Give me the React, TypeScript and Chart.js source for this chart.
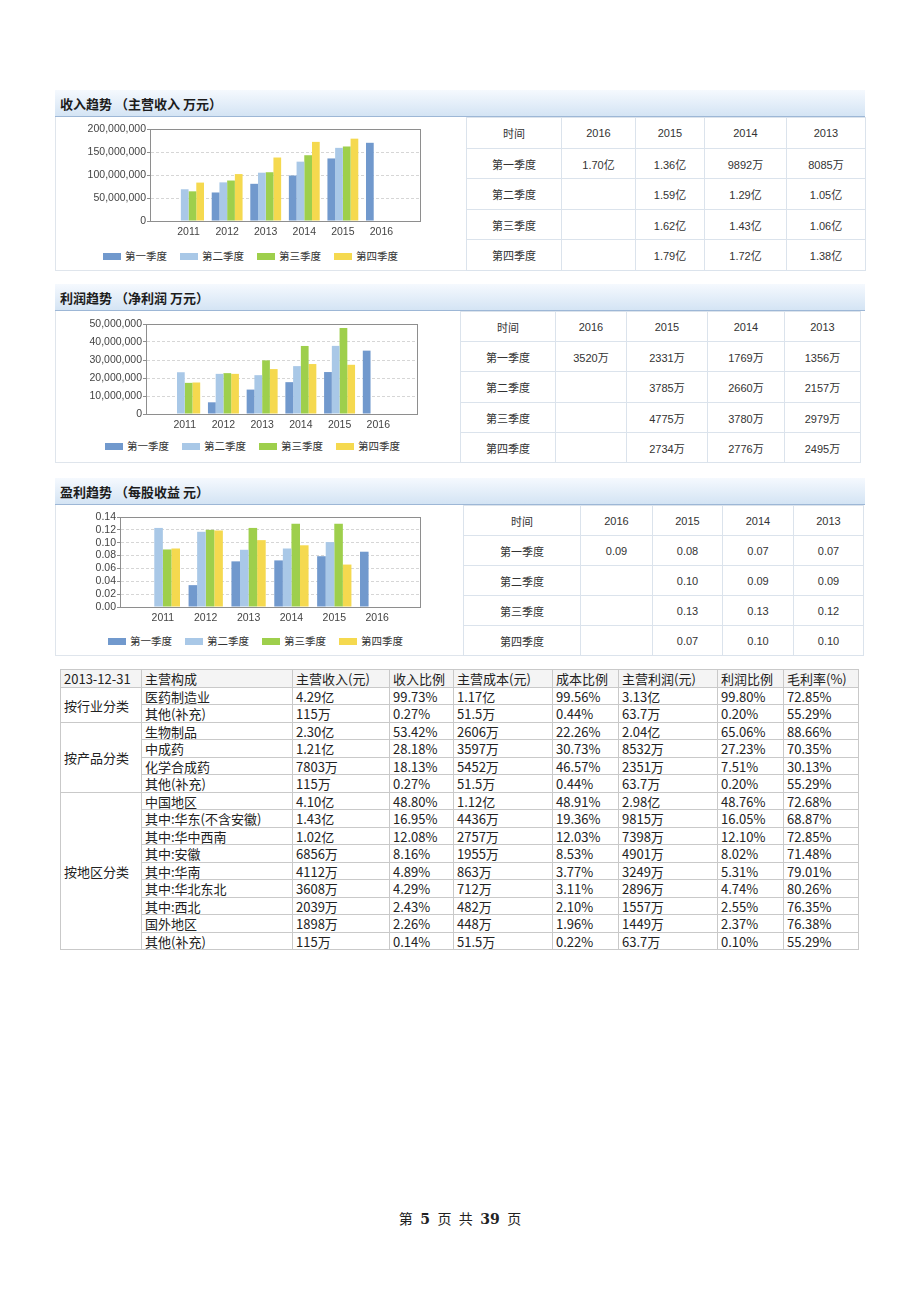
import React, { useEffect, useRef } from 'react';
import { Chart, registerables } from 'chart.js';
Chart.register(...registerables);

// ---------- chart data ----------
const years = ['', '2011', '2012', '2013', '2014', '2015', '2016', ''];
const quarterNames = ['第一季度', '第二季度', '第三季度', '第四季度'];
const quarterColors = ['#7199cd', '#a9c8e7', '#9ecf4c', '#f5d94f'];

const revQ1 = [null, null, 62000000, 80850000, 98920000, 136000000, 170000000, null];
const revQ2 = [null, 69000000, 84000000, 105000000, 129000000, 159000000, null, null];
const revQ3 = [null, 64500000, 88000000, 106000000, 143000000, 162000000, null, null];
const revQ4 = [null, 83500000, 102000000, 138000000, 172000000, 179000000, null, null];

const profQ1 = [null, null, 6500000, 13560000, 17690000, 23310000, 35200000, null];
const profQ2 = [null, 23200000, 22300000, 21570000, 26600000, 37850000, null, null];
const profQ3 = [null, 17300000, 22700000, 29790000, 37800000, 47750000, null, null];
const profQ4 = [null, 17500000, 22300000, 24950000, 27760000, 27340000, null, null];

const epsQ1 = [null, null, 0.034, 0.071, 0.0725, 0.079, 0.086, null];
const epsQ2 = [null, 0.123, 0.117, 0.089, 0.091, 0.101, null, null];
const epsQ3 = [null, 0.0895, 0.12, 0.123, 0.1295, 0.1295, null, null];
const epsQ4 = [null, 0.091, 0.119, 0.104, 0.096, 0.066, null, null];

// ---------- quarterly tables ----------
const tableYears = ['2016', '2015', '2014', '2013'];
const revTable = [
  ['1.70亿', '1.36亿', '9892万', '8085万'],
  ['', '1.59亿', '1.29亿', '1.05亿'],
  ['', '1.62亿', '1.43亿', '1.06亿'],
  ['', '1.79亿', '1.72亿', '1.38亿'],
];
const profTable = [
  ['3520万', '2331万', '1769万', '1356万'],
  ['', '3785万', '2660万', '2157万'],
  ['', '4775万', '3780万', '2979万'],
  ['', '2734万', '2776万', '2495万'],
];
const epsTable = [
  ['0.09', '0.08', '0.07', '0.07'],
  ['', '0.10', '0.09', '0.09'],
  ['', '0.13', '0.13', '0.12'],
  ['', '0.07', '0.10', '0.10'],
];

// ---------- composition table ----------
const compHeader = ['2013-12-31', '主营构成', '主营收入(元)', '收入比例', '主营成本(元)', '成本比例', '主营利润(元)', '利润比例', '毛利率(%)'];
const compGroupNames = ['按行业分类', '按产品分类', '按地区分类'];
const compGroupSizes = [2, 4, 9];
const compItems = ['医药制造业', '其他(补充)', '生物制品', '中成药', '化学合成药', '其他(补充)', '中国地区', '其中:华东(不含安徽)', '其中:华中西南', '其中:安徽', '其中:华南', '其中:华北东北', '其中:西北', '国外地区', '其他(补充)'];
const compRevenue = ['4.29亿', '115万', '2.30亿', '1.21亿', '7803万', '115万', '4.10亿', '1.43亿', '1.02亿', '6856万', '4112万', '3608万', '2039万', '1898万', '115万'];
const compRevRatio = ['99.73%', '0.27%', '53.42%', '28.18%', '18.13%', '0.27%', '48.80%', '16.95%', '12.08%', '8.16%', '4.89%', '4.29%', '2.43%', '2.26%', '0.14%'];
const compCost = ['1.17亿', '51.5万', '2606万', '3597万', '5452万', '51.5万', '1.12亿', '4436万', '2757万', '1955万', '863万', '712万', '482万', '448万', '51.5万'];
const compCostRatio = ['99.56%', '0.44%', '22.26%', '30.73%', '46.57%', '0.44%', '48.91%', '19.36%', '12.03%', '8.53%', '3.77%', '3.11%', '2.10%', '1.96%', '0.22%'];
const compProfit = ['3.13亿', '63.7万', '2.04亿', '8532万', '2351万', '63.7万', '2.98亿', '9815万', '7398万', '4901万', '3249万', '2896万', '1557万', '1449万', '63.7万'];
const compProfitRatio = ['99.80%', '0.20%', '65.06%', '27.23%', '7.51%', '0.20%', '48.76%', '16.05%', '12.10%', '8.02%', '5.31%', '4.74%', '2.55%', '2.37%', '0.10%'];
const compMargin = ['72.85%', '55.29%', '88.66%', '70.35%', '30.13%', '55.29%', '72.68%', '68.87%', '72.85%', '71.48%', '79.01%', '80.26%', '76.35%', '76.38%', '55.29%'];

const CJK = '"Noto Sans CJK SC", "Noto Sans", sans-serif';
const TBLFONT = '"Liberation Sans", "Noto Sans CJK SC", sans-serif';

const boxPlugin = {
  id: 'plotBox',
  afterDraw(chart: any) {
    const { ctx, chartArea } = chart;
    const l = Math.round(chartArea.left) + 0.5;
    const t = Math.round(chartArea.top) + 0.5;
    const r = Math.round(chartArea.right) + 0.5;
    const b = Math.round(chartArea.bottom) + 0.5;
    ctx.save();
    ctx.strokeStyle = '#8e8e8e';
    ctx.lineWidth = 1;
    ctx.strokeRect(l, t, r - l, b - t);
    ctx.restore();
  },
};

type ChartProps = {
  plotLeft: number; plotRight: number; plotTop: number; plotBottom: number;
  series: (number | null)[][]; yMax: number; yStep: number; decimals: number;
};

function QuarterChart(p: ChartProps) {
  const ref = useRef<HTMLCanvasElement>(null);
  const canvasLeft = 56;
  const padTop = 12, padRight = 14, padBottom = 2, xH = 22;
  const cTop = p.plotTop - padTop;
  const w = p.plotRight - canvasLeft + padRight;
  const h = p.plotBottom + xH + padBottom - cTop;
  useEffect(() => {
    const tickFont = { family: '"Liberation Sans", sans-serif', size: 10.5 };
    const chart = new Chart(ref.current as HTMLCanvasElement, {
      type: 'bar',
      data: {
        labels: years,
        datasets: p.series.map((d, i) => ({
          label: quarterNames[i],
          data: d as any,
          backgroundColor: quarterColors[i],
          borderWidth: 0,
          categoryPercentage: 0.8,
          barPercentage: 1.0,
        })),
      },
      options: {
        animation: false,
        responsive: false,
        devicePixelRatio: 1,
        layout: { padding: { top: padTop, right: padRight, bottom: padBottom, left: 0 } },
        plugins: { legend: { display: false }, tooltip: { enabled: false } },
        scales: {
          x: {
            offset: false,
            grid: { display: false, drawTicks: false },
            border: { display: true, color: '#8e8e8e' },
            ticks: { autoSkip: false, maxRotation: 0, padding: 5, color: '#444', font: tickFont },
            afterFit: (s: any) => { s.height = xH; },
          },
          y: {
            min: 0,
            max: p.yMax,
            ticks: {
              stepSize: p.yStep,
              autoSkip: false,
              color: '#444',
              font: tickFont,
              padding: 1,
              callback: (v: any) => p.decimals > 0 ? Number(v).toFixed(p.decimals) : Number(v).toLocaleString('en-US'),
            },
            grid: { color: '#d6d6d6', tickColor: '#8e8e8e', tickLength: 3, drawTicks: true },
            border: { display: true, color: '#8e8e8e', dash: [3, 2] },
            afterFit: (s: any) => { s.width = p.plotLeft - canvasLeft; },
          },
        },
      } as any,
      plugins: [boxPlugin],
    });
    return () => chart.destroy();
  }, []);
  return (
    <canvas
      ref={ref}
      width={w}
      height={h}
      style={{ position: 'absolute', left: canvasLeft, top: cTop, width: w, height: h }}
    />
  );
}

function Legend({ x, y }: { x: number; y: number }) {
  return (
    <div style={{ position: 'absolute', left: x, top: y - 8, height: 16, display: 'flex', alignItems: 'center', gap: 13 }}>
      {quarterNames.map((n, i) => (
        <div key={i} style={{ display: 'flex', alignItems: 'center' }}>
          <span style={{ display: 'inline-block', width: 18, height: 7, background: quarterColors[i], marginRight: 4 }} />
          <span style={{ font: `10.5px ${CJK}`, color: '#333', lineHeight: '16px' }}>{n}</span>
        </div>
      ))}
    </div>
  );
}

type Cell = { c: number; r: number; cs?: number; rs?: number; text: string; align?: 'left' | 'center'; bg?: string };

function Grid({ xs, ys, cells, border, font, color, pad }: { xs: number[]; ys: number[]; cells: Cell[]; border: string; font: string; color: string; pad: number }) {
  return (
    <>
      {cells.map((cell, i) => {
        const cs = cell.cs || 1, rs = cell.rs || 1;
        const l = xs[cell.c], r = xs[cell.c + cs], t = ys[cell.r], b = ys[cell.r + rs];
        return (
          <div
            key={i}
            style={{
              position: 'absolute', left: l, top: t, width: r - l + 1, height: b - t + 1,
              boxSizing: 'border-box', border: `1px solid ${border}`, display: 'flex', alignItems: 'center',
              justifyContent: cell.align === 'left' ? 'flex-start' : 'center',
              paddingLeft: cell.align === 'left' ? pad : 0, font, color, whiteSpace: 'nowrap',
              background: cell.bg || 'transparent', overflow: 'hidden',
            }}
          >
            {cell.text}
          </div>
        );
      })}
    </>
  );
}

function quarterCells(values: string[][]): Cell[] {
  const cells: Cell[] = [{ c: 0, r: 0, text: '时间' }];
  tableYears.forEach((y, i) => cells.push({ c: i + 1, r: 0, text: y }));
  values.forEach((row, ri) => {
    cells.push({ c: 0, r: ri + 1, text: quarterNames[ri] });
    row.forEach((v, ci) => cells.push({ c: ci + 1, r: ri + 1, text: v }));
  });
  return cells;
}

function Section(props: {
  title: string; headerTop: number; bodyTop: number; bodyBottom: number;
  xs: number[]; ys: number[]; values: string[][];
}) {
  const { title, headerTop, bodyTop, bodyBottom, xs, ys, values } = props;
  return (
    <>
      <div
        style={{
          position: 'absolute', left: 55, top: headerTop, width: 810, height: bodyTop - headerTop,
          boxSizing: 'border-box', background: 'linear-gradient(#f5f9fe, #d4e4f4)',
          borderBottom: '1px solid #9db7d6', display: 'flex', alignItems: 'center', paddingLeft: 5,
          font: `bold 13px ${CJK}`, color: '#1c1c1c',
        }}
      >
        {title}
      </div>
      <div
        style={{
          position: 'absolute', left: 55, top: bodyTop, width: xs[0] - 55 + 1, height: bodyBottom - bodyTop + 1,
          boxSizing: 'border-box', borderLeft: '1px solid #dfe5ec', borderBottom: '1px solid #dfe5ec',
        }}
      />
      <Grid xs={xs} ys={ys} cells={quarterCells(values)} border="#dbe3ec" font={`11px ${TBLFONT}`} color="#333" pad={0} />
    </>
  );
}

function CompositionTable() {
  const xs = [60, 141, 292, 389, 453, 552, 618, 717, 783, 858];
  const ys: number[] = [];
  for (let i = 0; i <= 16; i++) ys.push(Math.round(669 + i * 17.5));
  const cells: Cell[] = [];
  compHeader.forEach((h, i) => cells.push({ c: i, r: 0, text: h, align: 'left', bg: '#f4f4f4' }));
  let r = 1;
  compGroupNames.forEach((g, gi) => {
    cells.push({ c: 0, r, rs: compGroupSizes[gi], text: g, align: 'left' });
    r += compGroupSizes[gi];
  });
  const cols = [compItems, compRevenue, compRevRatio, compCost, compCostRatio, compProfit, compProfitRatio, compMargin];
  compItems.forEach((_, ri) => {
    cols.forEach((col, ci) => cells.push({ c: ci + 1, r: ri + 1, text: col[ri], align: 'left' }));
  });
  return <Grid xs={xs} ys={ys} cells={cells} border="#c9c9c9" font={`13px ${CJK}`} color="#222" pad={3} />;
}

export default function App() {
  return (
    <div style={{ position: 'absolute', left: 0, top: 0, width: 920, height: 1302, background: '#fff', overflow: 'hidden' }}>
      <Section
        title="收入趋势 （主营收入 万元）"
        headerTop={90} bodyTop={117} bodyBottom={270}
        xs={[466, 561, 635, 704, 786, 865]} ys={[117, 148, 178, 209, 239, 270]}
        values={revTable}
      />
      <QuarterChart plotLeft={150} plotRight={420} plotTop={129} plotBottom={221}
        series={[revQ1, revQ2, revQ3, revQ4]} yMax={200000000} yStep={50000000} decimals={0} />
      <Legend x={103} y={256} />

      <Section
        title="利润趋势 （净利润 万元）"
        headerTop={284} bodyTop={311} bodyBottom={462}
        xs={[460, 555, 626, 707, 784, 860]} ys={[311, 341, 371, 402, 432, 462]}
        values={profTable}
      />
      <QuarterChart plotLeft={146} plotRight={417} plotTop={324} plotBottom={414}
        series={[profQ1, profQ2, profQ3, profQ4]} yMax={50000000} yStep={10000000} decimals={0} />
      <Legend x={105} y={446} />

      <Section
        title="盈利趋势 （每股收益 元）"
        headerTop={478} bodyTop={505} bodyBottom={655}
        xs={[463, 580, 652, 722, 793, 863]} ys={[505, 535, 565, 595, 625, 655]}
        values={epsTable}
      />
      <QuarterChart plotLeft={120} plotRight={420} plotTop={517} plotBottom={607}
        series={[epsQ1, epsQ2, epsQ3, epsQ4]} yMax={0.14} yStep={0.02} decimals={2} />
      <Legend x={108} y={641} />

      <CompositionTable />

      <div
        style={{
          position: 'absolute', left: 0, width: 920, top: 1208, textAlign: 'center',
          font: `14px "DejaVu Serif", ${CJK}`, color: '#222', wordSpacing: 3,
        }}
      >
        第 <b>5</b> 页 共 <b>39</b> 页
      </div>
    </div>
  );
}
